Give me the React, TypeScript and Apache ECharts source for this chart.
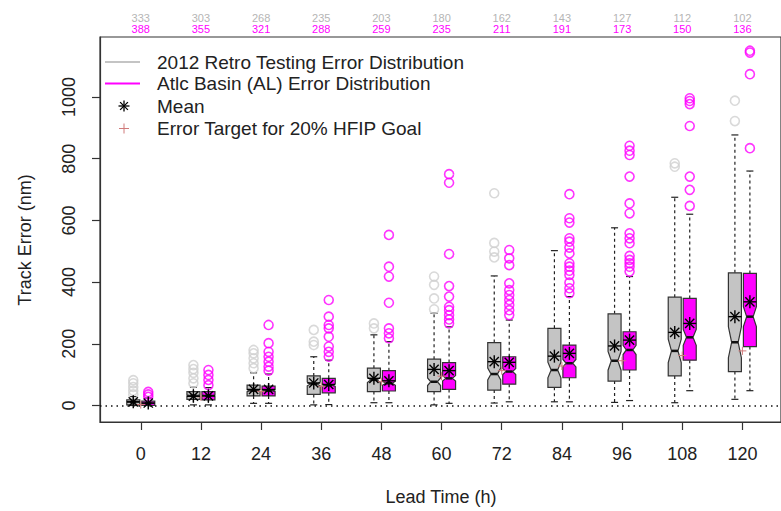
import React, { useEffect, useRef } from "react";
import * as echarts from "echarts";

const leadTimes = [0, 12, 24, 36, 48, 60, 72, 84, 96, 108, 120];
const retroCounts = [333, 303, 268, 235, 203, 180, 162, 143, 127, 112, 102];
const alCounts = [388, 355, 321, 288, 259, 235, 211, 191, 173, 150, 136];

// [lower whisker, Q1, median, Q3, upper whisker]
const retroStats = [
  [0, 2, 11, 18, 29],
  [2, 20, 32, 45, 59],
  [7, 31, 48, 66, 106],
  [2, 36, 70, 96, 158],
  [9, 45, 83, 121, 229],
  [2, 45, 77, 150, 299],
  [8, 50, 102, 204, 420],
  [12, 59, 115, 250, 502],
  [10, 79, 145, 297, 576],
  [9, 96, 177, 351, 675],
  [20, 110, 205, 430, 877],
];
const alStats = [
  [0, 0, 7, 14, 24],
  [2, 18, 32, 45, 58],
  [7, 31, 48, 63, 102],
  [3, 41, 66, 88, 147],
  [9, 47, 72, 113, 207],
  [7, 52, 88, 139, 255],
  [12, 69, 110, 158, 277],
  [12, 90, 137, 196, 353],
  [16, 115, 180, 239, 418],
  [48, 147, 221, 347, 620],
  [48, 191, 288, 428, 760],
];
const retroMeans = [12, 30, 52, 73, 88, 117, 142, 160, 193, 237, 288];
const alMeans = [8, 31, 52, 68, 80, 113, 140, 169, 212, 266, 336];
const targets = [3, 28, 45, 62, 77, 95, 113, 128, 145, 162, 177];

const retroOutliers = [
  [36, 48, 60, 72, 82],
  [72, 88, 106, 118, 131],
  [121, 137, 153, 169, 180],
  [196, 207, 245],
  [250, 266],
  [312, 347, 391, 418],
  [480, 499, 527, 688],
  [],
  [],
  [774, 785],
  [922, 988],
];
const alOutliers = [
  [28, 36, 44],
  [66, 83, 99, 115],
  [113, 126, 142, 158, 174, 202, 261],
  [158, 174, 191, 223, 250, 261, 288, 342],
  [218, 234, 250, 333, 418, 450, 553],
  [266, 279, 293, 309, 320, 353, 387, 491, 722, 750],
  [293, 309, 326, 342, 358, 374, 396, 455, 477, 504],
  [364, 380, 398, 423, 437, 450, 461, 493, 512, 531, 542, 593, 607, 685],
  [434, 450, 461, 472, 485, 526, 542, 558, 623, 655, 742, 812, 826, 842],
  [647, 699, 742, 906, 977, 987, 996],
  [834, 1074, 1144, 1150],
];
const yTicks = [0, 200, 400, 600, 800, 1000];

const GREY = "#c4c4c4";
const GREY_OUT = "#cfcfcf";
const MAG = "#ff00ff";
const TARGET = "#d07a7a";
const FONT = "'Liberation Sans', Arial, Helvetica, sans-serif";
const OFFSET = 7.5;
const HALF_W = 6.5;

function asterisk(cx: number, cy: number, r: number, color: string, lw: number) {
  const d = r * 0.7071;
  const segs = [
    [cx - r, cy, cx + r, cy],
    [cx, cy - r, cx, cy + r],
    [cx - d, cy - d, cx + d, cy + d],
    [cx - d, cy + d, cx + d, cy - d],
  ];
  return segs.map((s) => ({
    type: "line",
    shape: { x1: s[0], y1: s[1], x2: s[2], y2: s[3] },
    style: { stroke: color, lineWidth: lw },
  }));
}

export default function App() {
  const ref = useRef<HTMLDivElement>(null);
  useEffect(() => {
    const chart = echarts.init(ref.current!, null, { renderer: "svg" });

    const boxData: any[] = [];
    leadTimes.forEach((t, i) => {
      boxData.push([t, ...retroStats[i], retroCounts[i], -1]);
      boxData.push([t, ...alStats[i], alCounts[i], 1]);
    });
    const meanData: any[] = [];
    leadTimes.forEach((t, i) => {
      meanData.push([t, retroMeans[i], -1]);
      meanData.push([t, alMeans[i], 1]);
    });
    const targetData = leadTimes.map((t, i) => [t, targets[i]]);
    const retroOutData: number[][] = [];
    const alOutData: number[][] = [];
    leadTimes.forEach((t, i) => {
      retroOutliers[i].forEach((v) => retroOutData.push([t, v]));
      alOutliers[i].forEach((v) => alOutData.push([t, v]));
    });

    const renderBox = (params: any, api: any) => {
      const side = api.value(7);
      const x = api.coord([api.value(0), 0])[0] + side * OFFSET;
      const lo = api.value(1), q1 = api.value(2), med = api.value(3), q3 = api.value(4), hi = api.value(5), n = api.value(6);
      const nd = (1.58 * (q3 - q1)) / Math.sqrt(n);
      const py = (v: number) => api.coord([0, v])[1];
      const yLo = py(lo), yQ1 = py(q1), yMed = py(med), yQ3 = py(q3), yHi = py(hi);
      const yNlo = py(med - nd), yNhi = py(med + nd);
      const w = HALF_W;
      const fill = side < 0 ? GREY : MAG;
      const dash = { stroke: "#222", lineWidth: 1.2, lineDash: [3, 3] };
      const solid = { stroke: "#222", lineWidth: 1.2 };
      return {
        type: "group",
        children: [
          { type: "line", shape: { x1: x, y1: yQ3, x2: x, y2: yHi }, style: dash },
          { type: "line", shape: { x1: x, y1: yQ1, x2: x, y2: yLo }, style: dash },
          { type: "line", shape: { x1: x - 3.5, y1: yHi, x2: x + 3.5, y2: yHi }, style: solid },
          { type: "line", shape: { x1: x - 3.5, y1: yLo, x2: x + 3.5, y2: yLo }, style: solid },
          {
            type: "polygon",
            shape: {
              points: [
                [x - w, yQ1],
                [x - w, yNlo],
                [x - w / 2, yMed],
                [x - w, yNhi],
                [x - w, yQ3],
                [x + w, yQ3],
                [x + w, yNhi],
                [x + w / 2, yMed],
                [x + w, yNlo],
                [x + w, yQ1],
              ],
            },
            style: { fill, stroke: "#333", lineWidth: 1.2 },
          },
          { type: "line", shape: { x1: x - w / 2, y1: yMed, x2: x + w / 2, y2: yMed }, style: { stroke: "#111", lineWidth: 2.5 } },
        ],
      };
    };

    const renderMean = (params: any, api: any) => {
      const p = api.coord([api.value(0), api.value(1)]);
      const x = p[0] + api.value(2) * OFFSET;
      return { type: "group", children: asterisk(x, p[1], 6.5, "#000", 1.4) };
    };

    const renderTarget = (params: any, api: any) => {
      const p = api.coord([api.value(0), api.value(1)]);
      const r = 4;
      return {
        type: "group",
        children: [
          { type: "line", shape: { x1: p[0] - r, y1: p[1], x2: p[0] + r, y2: p[1] }, style: { stroke: TARGET, lineWidth: 1 } },
          { type: "line", shape: { x1: p[0], y1: p[1] - r, x2: p[0], y2: p[1] + r }, style: { stroke: TARGET, lineWidth: 1 } },
        ],
      };
    };

    const legendX = 105;
    const legendTextX = 157;
    const legendRows = [62, 83.5, 106, 128.5];
    const legendTexts = [
      "2012 Retro Testing Error Distribution",
      "Atlc Basin (AL) Error Distribution",
      "Mean",
      "Error Target for 20% HFIP Goal",
    ];

    const option: any = {
      animation: false,
      grid: {
        left: 100,
        top: 37,
        right: -1,
        bottom: 89,
        show: true,
        borderColor: "#333",
        borderWidth: 1.2,
        backgroundColor: "transparent",
      },
      xAxis: [
        {
          type: "value",
          min: -8.13,
          max: 127.7,
          position: "bottom",
          splitLine: { show: false },
          axisLine: { show: true, onZero: false, lineStyle: { color: "#333", width: 1.2 } },
          axisTick: { show: true, customValues: leadTimes, length: 8, lineStyle: { color: "#333", width: 1.2 } },
          axisLabel: { customValues: leadTimes, fontSize: 18, fontFamily: FONT, color: "#222", margin: 23 },
        },
        {
          type: "value",
          min: -8.13,
          max: 127.7,
          position: "top",
          splitLine: { show: false },
          axisLine: { show: false },
          axisTick: { show: false },
          axisLabel: {
            customValues: leadTimes,
            margin: 2,
            formatter: (v: number) => {
              const i = leadTimes.indexOf(v);
              return `{g|${retroCounts[i]}}\n{m|${alCounts[i]}}`;
            },
            rich: {
              g: { color: "#b5b5b5", fontSize: 11, lineHeight: 11.5, fontFamily: FONT },
              m: { color: MAG, fontSize: 11, lineHeight: 11.5, fontFamily: FONT },
            },
          },
        },
      ],
      yAxis: {
        type: "value",
        min: -53.5,
        max: 1194.5,
        splitLine: { show: false },
        axisLine: { show: true, onZero: false, lineStyle: { color: "#333", width: 1.2 } },
        axisTick: { show: true, customValues: yTicks, length: 8, lineStyle: { color: "#333", width: 1.2 } },
        axisLabel: {
          customValues: yTicks,
          rotate: 90,
          fontSize: 18,
          fontFamily: FONT,
          color: "#222",
          margin: 22,
          formatter: (v: number) => String(v),
        },
      },
      graphic: [
        {
          type: "text",
          x: 25,
          y: 240,
          rotation: Math.PI / 2,
          style: { text: "Track Error (nm)", fontSize: 18, fontFamily: FONT, fill: "#222", align: "center", verticalAlign: "middle" },
        },
        {
          type: "text",
          x: 441,
          y: 497,
          style: { text: "Lead Time (h)", fontSize: 18, fontFamily: FONT, fill: "#222", align: "center", verticalAlign: "middle" },
        },
        { type: "line", shape: { x1: legendX, y1: legendRows[0], x2: legendX + 35, y2: legendRows[0] }, style: { stroke: GREY, lineWidth: 2 } },
        { type: "line", shape: { x1: legendX, y1: legendRows[1], x2: legendX + 35, y2: legendRows[1] }, style: { stroke: MAG, lineWidth: 2 } },
        { type: "group", children: asterisk(124, legendRows[2], 5.5, "#000", 1.3) },
        {
          type: "group",
          children: [
            { type: "line", shape: { x1: 119, y1: legendRows[3], x2: 129, y2: legendRows[3] }, style: { stroke: TARGET, lineWidth: 1 } },
            { type: "line", shape: { x1: 124, y1: legendRows[3] - 5, x2: 124, y2: legendRows[3] + 5 }, style: { stroke: TARGET, lineWidth: 1 } },
          ],
        },
        ...legendTexts.map((t, i) => ({
          type: "text",
          x: legendTextX,
          y: legendRows[i],
          style: { text: t, fontSize: 19, fontFamily: FONT, fill: "#222", verticalAlign: "middle" },
        })),
      ],
      series: [
        {
          type: "scatter",
          name: "retroOutliers",
          data: retroOutData,
          symbol: "circle",
          symbolSize: 9,
          symbolOffset: [-OFFSET, 0],
          itemStyle: { color: "transparent", borderColor: GREY_OUT, borderWidth: 1.6 },
          markLine: {
            silent: true,
            symbol: "none",
            label: { show: false },
            data: [{ yAxis: 0 }],
            lineStyle: { color: "#111", type: [1.5, 4], width: 1.6 },
          },
        },
        {
          type: "scatter",
          name: "alOutliers",
          data: alOutData,
          symbol: "circle",
          symbolSize: 9,
          symbolOffset: [OFFSET, 0],
          itemStyle: { color: "transparent", borderColor: MAG, borderWidth: 1.6 },
        },
        { type: "custom", name: "boxes", renderItem: renderBox, data: boxData, encode: { x: 0, y: [1, 5] } },
        { type: "custom", name: "target", renderItem: renderTarget, data: targetData, encode: { x: 0, y: 1 }, z: 3 },
        { type: "custom", name: "means", renderItem: renderMean, data: meanData, encode: { x: 0, y: 1 }, z: 4 },
      ],
    };
    chart.setOption(option);
    return () => chart.dispose();
  }, []);
  return <div ref={ref} style={{ position: "absolute", left: 0, top: 0, width: 781, height: 511 }} />;
}
